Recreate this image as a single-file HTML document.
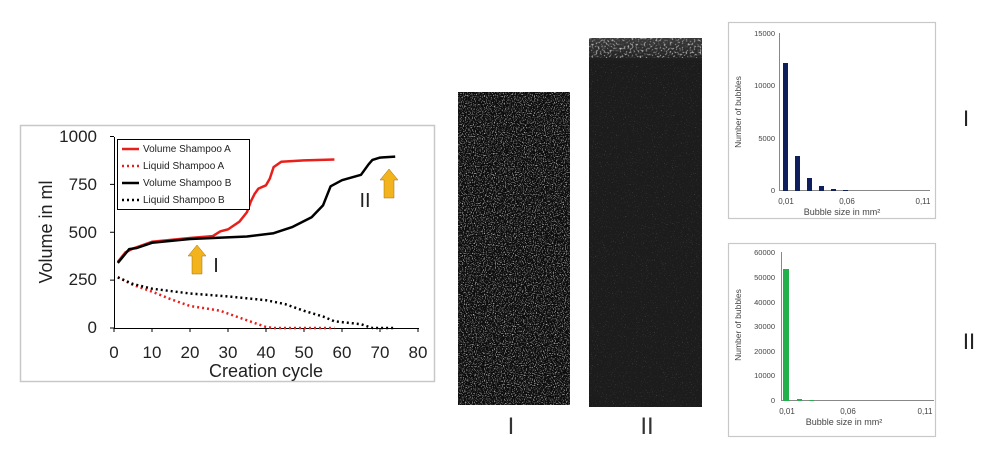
<!DOCTYPE html>
<html><head><meta charset="utf-8"><style>
html,body{margin:0;padding:0;background:#fff;width:1000px;height:468px;overflow:hidden}
svg{display:block}
text{font-family:"Liberation Sans","DejaVu Sans",sans-serif}
</style></head><body>
<svg id="s" width="1000" height="468" viewBox="0 0 1000 468" xmlns="http://www.w3.org/2000/svg">
<defs>
<filter id="n1" x="0" y="0" width="100%" height="100%">
<feTurbulence type="fractalNoise" baseFrequency="0.9" numOctaves="1" seed="3" result="t"/>
<feColorMatrix type="matrix" values="0 0 0 0 1  0 0 0 0 1  0 0 0 0 1  3 0 0 0 -1.55"/>
</filter>
<filter id="n2" x="0" y="0" width="100%" height="100%">
<feTurbulence type="fractalNoise" baseFrequency="0.9" numOctaves="1" seed="7"/>
<feColorMatrix type="matrix" values="0 0 0 0 1  0 0 0 0 1  0 0 0 0 1  2 0 0 0 -1.25"/>
</filter>
<filter id="n3" x="0" y="0" width="100%" height="100%">
<feTurbulence type="fractalNoise" baseFrequency="0.5" numOctaves="1" seed="9"/>
<feColorMatrix type="matrix" values="0 0 0 0 1  0 0 0 0 1  0 0 0 0 1  3 0 0 0 -1.5"/>
</filter>
<linearGradient id="tg" x1="0" y1="0" x2="0" y2="1">
<stop offset="0" stop-color="#3a3a3a"/><stop offset="1" stop-color="#1c1c1c"/>
</linearGradient>
</defs>

<rect x="20.5" y="125.5" width="414" height="256" fill="#fff" stroke="#c8c8c8" stroke-width="1.5"/>
<g font-size="17" fill="#222" text-anchor="end">
<text x="97" y="142">1000</text><text x="97" y="190">750</text><text x="97" y="238">500</text><text x="97" y="285">250</text><text x="97" y="333">0</text>
</g>
<g font-size="17" fill="#222" text-anchor="middle">
<text x="114" y="358">0</text><text x="152" y="358">10</text><text x="190" y="358">20</text><text x="228" y="358">30</text><text x="266" y="358">40</text><text x="304" y="358">50</text><text x="342" y="358">60</text><text x="380" y="358">70</text><text x="418" y="358">80</text>
<text x="266" y="377" font-size="18">Creation cycle</text>
</g>
<text transform="translate(52,232) rotate(-90)" font-size="18" fill="#222" text-anchor="middle">Volume in ml</text>
<g stroke="#000" stroke-width="1" fill="none">
<line x1="114.5" y1="137" x2="114.5" y2="328"/>
<line x1="114" y1="328.5" x2="419" y2="328.5"/>
</g>
<g id="ticks" stroke="#000" stroke-width="1"></g>
<g id="curves" fill="none"></g>

<rect x="117.5" y="139.5" width="132" height="70" fill="#fff" stroke="#000" stroke-width="1"/>
<g font-size="10" fill="#222">
<line x1="122" y1="149" x2="139" y2="149" stroke="#e8201c" stroke-width="2.5"/><text x="143" y="152">Volume Shampoo A</text>
<line x1="122" y1="166" x2="139" y2="166" stroke="#e8201c" stroke-width="2.5" stroke-dasharray="2,3"/><text x="143" y="169">Liquid Shampoo A</text>
<line x1="122" y1="183" x2="139" y2="183" stroke="#000" stroke-width="2.5"/><text x="143" y="186">Volume Shampoo B</text>
<line x1="122" y1="200" x2="139" y2="200" stroke="#000" stroke-width="2.5" stroke-dasharray="2,3"/><text x="143" y="203">Liquid Shampoo B</text>
</g>
<polygon points="197,245 206,256 202,256 202,274 192,274 192,256 188,256" fill="#f2b31c" stroke="#a07010" stroke-width="0.5"/>
<polygon points="389,169 398,180 394,180 394,198 384,198 384,180 380,180" fill="#f2b31c" stroke="#a07010" stroke-width="0.5"/>
<text x="216" y="272" font-size="20" fill="#222" text-anchor="middle">I</text>
<text x="365" y="207" font-size="20" fill="#222" text-anchor="middle">II</text>

<rect x="458" y="92" width="112" height="313" fill="#0c0c0c"/>
<rect x="458" y="92" width="112" height="313" filter="url(#n1)"/>
<rect x="589" y="38" width="113" height="369" fill="#1c1c1c"/>
<rect x="589" y="38" width="113" height="369" filter="url(#n2)" opacity="0.6"/>
<rect x="589" y="38" width="113" height="24" fill="url(#tg)"/>
<rect x="589" y="38" width="113" height="20" filter="url(#n3)" opacity="0.8"/>
<text x="511" y="434" font-size="24" fill="#333" text-anchor="middle">I</text>
<text x="647" y="434" font-size="24" fill="#333" text-anchor="middle">II</text>

<rect x="728.5" y="22.5" width="207" height="196" fill="#fff" stroke="#c8c8c8" stroke-width="1.2"/>
<g font-size="7.5" fill="#444" text-anchor="end">
<text x="775" y="36">15000</text><text x="775" y="88">10000</text><text x="775" y="141">5000</text><text x="775" y="193">0</text>
</g>
<text transform="translate(741,112) rotate(-90)" font-size="8.5" fill="#444" text-anchor="middle">Number of bubbles</text>
<line x1="779.5" y1="33" x2="779.5" y2="191" stroke="#888"/>
<line x1="779" y1="190.5" x2="930" y2="190.5" stroke="#888"/>
<g fill="#0f1f5e">
<rect x="783" y="63" width="5" height="128"/>
<rect x="795" y="156" width="5" height="35"/>
<rect x="807" y="178" width="5" height="13"/>
<rect x="819" y="186" width="5" height="5"/>
<rect x="831" y="189" width="5" height="2"/>
<rect x="843" y="190" width="5" height="1"/>
</g>
<g font-size="8" fill="#444" text-anchor="middle">
<text x="786" y="204">0,01</text><text x="847" y="204">0,06</text><text x="923" y="204">0,11</text>
</g>
<text x="842" y="215" font-size="9" fill="#444" text-anchor="middle">Bubble size in mm²</text>
<text x="966" y="126" font-size="22" fill="#222" text-anchor="middle">I</text>

<rect x="728.5" y="243.5" width="207" height="193" fill="#fff" stroke="#c8c8c8" stroke-width="1.2"/>
<g font-size="7.5" fill="#444" text-anchor="end">
<text x="775" y="255">60000</text><text x="775" y="280">50000</text><text x="775" y="305">40000</text><text x="775" y="329">30000</text><text x="775" y="354">20000</text><text x="775" y="378">10000</text><text x="775" y="403">0</text>
</g>
<text transform="translate(741,325) rotate(-90)" font-size="8.5" fill="#444" text-anchor="middle">Number of bubbles</text>
<line x1="781.5" y1="252" x2="781.5" y2="401" stroke="#888"/>
<line x1="781" y1="400.5" x2="934" y2="400.5" stroke="#888"/>
<g fill="#22b04c">
<rect x="783" y="269" width="6" height="132"/>
<rect x="797" y="399" width="5" height="2"/>
<rect x="809" y="400" width="5" height="1"/>
</g>
<g font-size="8" fill="#444" text-anchor="middle">
<text x="787" y="414">0,01</text><text x="848" y="414">0,06</text><text x="925" y="414">0,11</text>
</g>
<text x="844" y="425" font-size="9" fill="#444" text-anchor="middle">Bubble size in mm²</text>
<text x="969" y="349" font-size="22" fill="#222" text-anchor="middle">II</text>
</svg>
<script>
(function(){
var NS="http://www.w3.org/2000/svg";
function X(c){return 114+3.8*c} function Y(v){return 328-0.1915*v}
var tk=document.getElementById("ticks");
for(var i=0;i<=8;i++){var l=document.createElementNS(NS,"line");var x=X(i*10);l.setAttribute("x1",x);l.setAttribute("x2",x);l.setAttribute("y1",328);l.setAttribute("y2",332);tk.appendChild(l);}
for(var j=0;j<=4;j++){var l=document.createElementNS(NS,"line");var y=Y(j*250);l.setAttribute("x1",110);l.setAttribute("x2",114);l.setAttribute("y1",y);l.setAttribute("y2",y);tk.appendChild(l);}
var g=document.getElementById("curves");
function add(d,col,dash){var p=document.createElementNS(NS,"polyline");p.setAttribute("points",d.map(function(q){return X(q[0]).toFixed(1)+","+Y(q[1]).toFixed(1)}).join(" "));p.setAttribute("stroke",col);p.setAttribute("stroke-width","2.5");p.setAttribute("stroke-linejoin","round");if(dash){p.setAttribute("stroke-dasharray","2,3");}g.appendChild(p);}
add([[1,265],[5,225],[10,190],[15,150],[20,115],[25,100],[28,90],[30,75],[35,40],[40,5],[42,0],[58,0]],"#e8201c",1);
add([[1,265],[5,230],[10,205],[20,180],[30,165],[40,145],[45,125],[50,90],[55,60],[58,35],[65,20],[68,0],[74,0]],"#000",1);
add([[1,345],[3,395],[5,415],[10,450],[20,470],[26,480],[28,505],[30,515],[33,555],[35,605],[36,660],[37,700],[38,728],[40,745],[41,780],[42,840],[44,868],[50,875],[58,880]],"#e8201c",0);
add([[1,340],[4,412],[6,418],[10,445],[20,465],[35,478],[42,495],[47,528],[52,578],[55,640],[57,740],[60,772],[65,800],[67,855],[68,878],[70,890],[74,895]],"#000",0);
})();
</script>
</body></html>
